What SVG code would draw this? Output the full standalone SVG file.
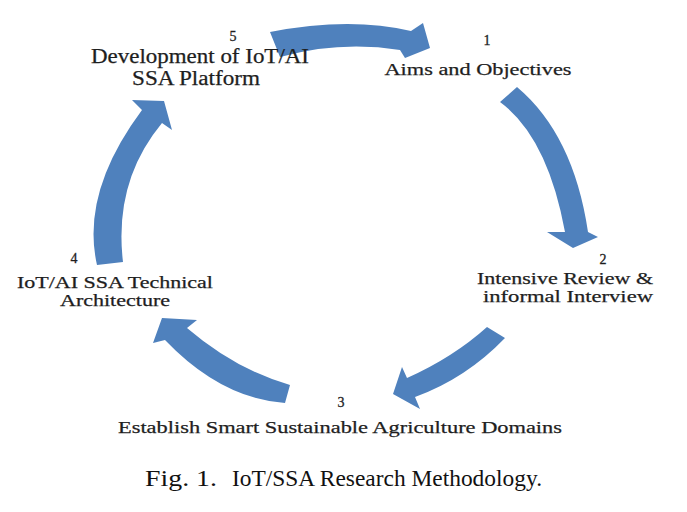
<svg xmlns="http://www.w3.org/2000/svg" width="687" height="512" viewBox="0 0 687 512">
<style>
.arrow{fill:#4f81bd;stroke:none}
.lbl{font-family:"Liberation Serif","Times New Roman",serif;font-size:17.5px;fill:#1e1e1e;stroke:#1e1e1e;stroke-width:0.25;text-anchor:middle}
.sm{font-size:16.5px}
.big{font-size:20px}
.num{font-family:"Liberation Serif","Times New Roman",serif;font-size:14px;fill:#1e1e1e;stroke:#1e1e1e;stroke-width:0.3;text-anchor:middle}
.cap{font-family:"Liberation Serif","Times New Roman",serif;font-size:23px;fill:#111}
</style>
<rect width="687" height="512" fill="#ffffff"/>
<g id="connectors">
<path id="a5to1" class="arrow" d="M270,32 Q349.5,16.5 411,31 L423,23 L430,48 L405,58 L400,50 Q340,40.5 280,57 Z"/>
<path id="a1to2" class="arrow" d="M517,87 Q573.5,134.5 588,232 L598,237 L573,248 L547,232 L565,232 Q547.5,137 500,102 Z"/>
<path id="a2to3" class="arrow" d="M505,338 Q466,378.5 415,397 L420,409 L393,394 L402,367 L407,378 Q453,357.5 487,327 Z"/>
<path id="a3to4" class="arrow" d="M285,403 Q221,398.5 165,340 L153,343 L162,318 L197,320 L187,328 Q235.5,369.5 290,385 Z"/>
<path id="a4to5" class="arrow" d="M97,265 Q80.5,192.5 142,110 L132,100 L164,101 L172,130 L162,123 Q113.5,181.5 123,262 Z"/>
</g>
<g id="node1">
<text class="num" x="487" y="45">1</text>
<text class="lbl" x="478" y="75" textLength="187" lengthAdjust="spacingAndGlyphs">Aims and Objectives</text>
</g>
<g id="node2">
<text class="num" x="603" y="264">2</text>
<text class="lbl sm" x="565" y="284" textLength="176" lengthAdjust="spacingAndGlyphs">Intensive Review &amp;</text>
<text class="lbl sm" x="568" y="302" textLength="170" lengthAdjust="spacingAndGlyphs">informal Interview</text>
</g>
<g id="node3">
<text class="num" x="341" y="407">3</text>
<text class="lbl" x="340" y="433" textLength="444" lengthAdjust="spacingAndGlyphs">Establish Smart Sustainable Agriculture Domains</text>
</g>
<g id="node4">
<text class="num" x="74" y="263">4</text>
<text class="lbl sm" x="115" y="288" textLength="196" lengthAdjust="spacingAndGlyphs">IoT/AI SSA Technical</text>
<text class="lbl sm" x="115" y="306" textLength="110" lengthAdjust="spacingAndGlyphs">Architecture</text>
</g>
<g id="node5">
<text class="num" x="233" y="41">5</text>
<text class="lbl big" x="200" y="63" textLength="218" lengthAdjust="spacingAndGlyphs">Development of IoT/AI</text>
<text class="lbl big" x="196" y="85" textLength="128" lengthAdjust="spacingAndGlyphs">SSA Platform</text>
</g>
<g id="caption">
<text class="cap" y="486"><tspan x="145" textLength="72" lengthAdjust="spacingAndGlyphs">Fig. 1.</tspan><tspan x="232" textLength="310" lengthAdjust="spacingAndGlyphs">IoT/SSA Research Methodology.</tspan></text>
</g>
</svg>
